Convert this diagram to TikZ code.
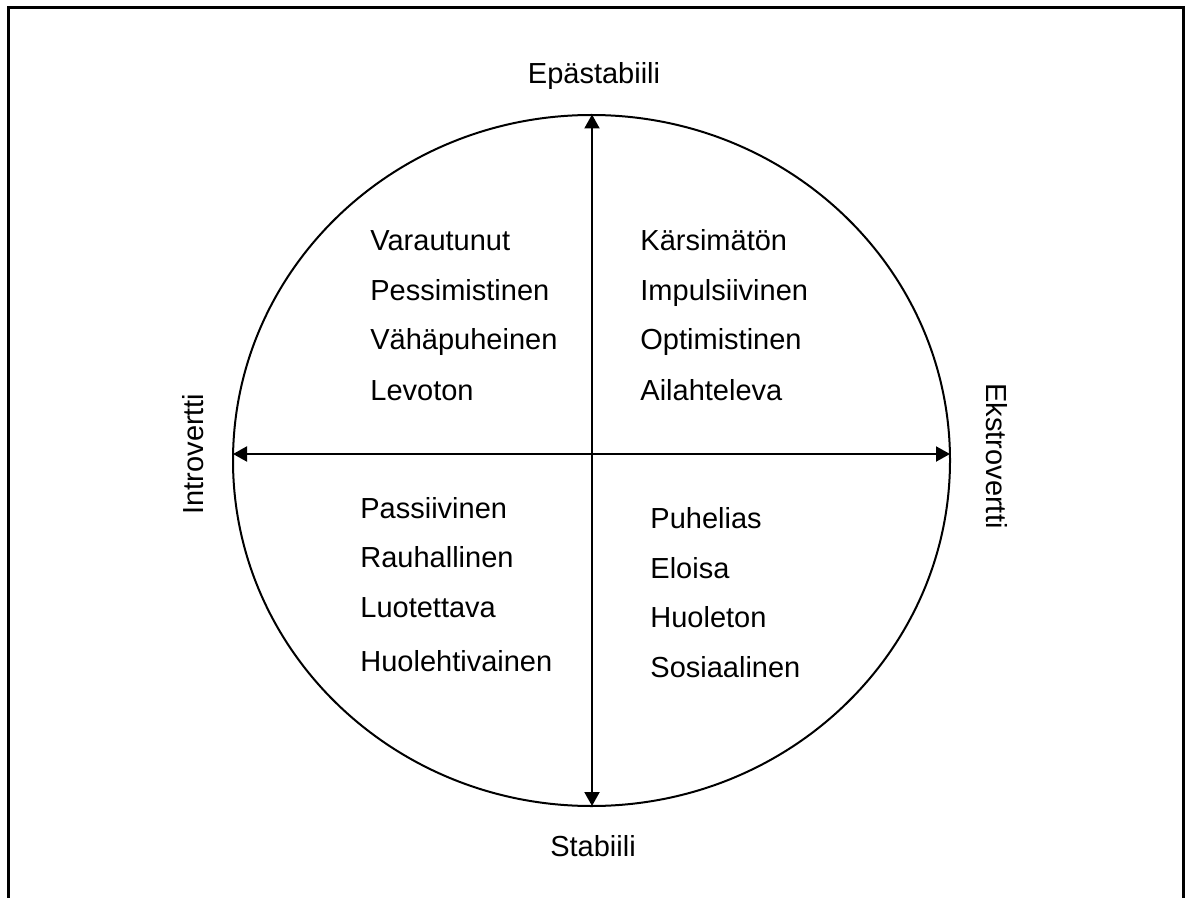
\documentclass[tikz,border=0pt]{standalone}
\usepackage{fontspec}
\setmainfont{Liberation Sans}
\usetikzlibrary{arrows.meta}

\tikzset{
  word/.style={anchor=base west, inner sep=0pt, font=\fontsize{14.5pt}{17pt}\selectfont},
  pole/.style={anchor=center, inner sep=0pt, font=\fontsize{14.5pt}{17pt}\selectfont},
  axis/.style={line width=1pt, {Triangle[length=7pt,width=7.5pt]}-{Triangle[length=7pt,width=7.5pt]}}
}

\begin{document}
\begin{tikzpicture}[x=0.5pt, y=-0.5pt]
      \useasboundingbox (0, 0) rectangle (1192, 898);
      % frame, open at the bottom
      \draw[line width=1.25pt] (8.5, 898) -- (8.5, 7.5) -- (1183.5, 7.5) -- (1183.5, 898);

      \draw[line width=1pt] (591.5, 460.5) ellipse [x radius=358.5, y radius=345.5];

      \coordinate (up) at (592, 114.5);
      \coordinate (down) at (592, 806);
      \coordinate (left) at (233, 454);
      \coordinate (right) at (950, 454);
      \draw[axis] (down) -- (up);
      \draw[axis] (left) -- (right);

      \node[pole] (unstable) at (594, 76) {Epästabiili};
      \node[pole] (stable) at (593, 846) {Stabiili};
      \node[pole, rotate=90] (intro) at (193, 454) {Introvertti};
      \node[pole, rotate=-90] (extro) at (997, 456) {Ekstrovertti};

      % upper left
      \node[word] (varautunut) at (370, 250.5) {Varautunut};
      \node[word] (pessimistinen) at (370, 300.5) {Pessimistinen};
      \node[word] (vahapuheinen) at (370, 350) {Vähäpuheinen};
      \node[word] (levoton) at (370, 400) {Levoton};

      % upper right
      \node[word] (karsimaton) at (640, 250.5) {Kärsimätön};
      \node[word] (impulsiivinen) at (640, 300.5) {Impulsiivinen};
      \node[word] (optimistinen) at (640, 350) {Optimistinen};
      \node[word] (ailahteleva) at (640, 400) {Ailahteleva};

      % lower left
      \node[word] (passiivinen) at (360, 518.5) {Passiivinen};
      \node[word] (rauhallinen) at (360, 567.5) {Rauhallinen};
      \node[word] (luotettava) at (360, 617) {Luotettava};
      \node[word] (huolehtivainen) at (360, 671) {Huolehtivainen};

      % lower right
      \node[word] (puhelias) at (650, 528.5) {Puhelias};
      \node[word] (eloisa) at (650, 578) {Eloisa};
      \node[word] (huoleton) at (650, 627) {Huoleton};
      \node[word] (sosiaalinen) at (650, 677) {Sosiaalinen};
\end{tikzpicture}
\end{document}
